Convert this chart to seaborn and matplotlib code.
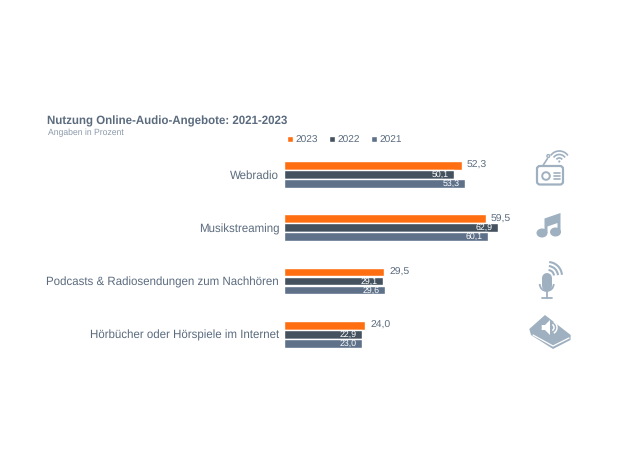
import pandas as pd
import seaborn as sns
import matplotlib.pyplot as plt
from matplotlib.patches import Circle, FancyBboxPatch, Polygon, Arc, Ellipse

categories = ["Webradio", "Musikstreaming", "Podcasts & Radiosendungen zum Nachhören",
              "Hörbücher oder Hörspiele im Internet"]
years = ["2023", "2022", "2021"]
values_2023 = [52.3, 59.5, 29.5, 24.0]
values_2022 = [50.1, 62.9, 29.1, 22.9]
values_2021 = [53.3, 60.1, 29.6, 23.0]
colors = ["#ff6f12", "#44525f", "#5e7189"]

W, H = 630, 468
TEXT = "#5b6b7e"
ICON = "#9fb0c0"

df = pd.DataFrame({"Angebot": categories * 3,
                   "Jahr": sum([[y] * 4 for y in years], []),
                   "Wert": values_2023 + values_2022 + values_2021})

sns.set_theme(style="white")
plt.rcParams["font.family"] = ["Liberation Sans", "DejaVu Sans"]
plt.rcParams["text.hinting"] = "no_hinting"

fig = plt.figure(figsize=(W / 100, H / 100), dpi=100)
# plot area placed by pixels of the reference
left, right, top, bottom = 284.0, 521.7, 147.8, 361.0
ax = fig.add_axes([left / W, 1 - bottom / H, (right - left) / W, (bottom - top) / H])

sns.barplot(data=df, y="Angebot", x="Wert", hue="Jahr", hue_order=years, palette=colors,
            orient="h", width=0.51, gap=0.04, saturation=1, errorbar=None, ax=ax)
ax.set_xlim(0, 70)
ax.set(xlabel="", ylabel="", xticks=[])
ax.tick_params(axis="y", length=0, pad=3.5, labelsize=8.3, labelcolor=TEXT)
sns.despine(ax=ax, left=True, bottom=True)

# first series outside the bar, the others inside
for i, bars in enumerate(ax.containers):
    labels = [f"{v:.1f}".replace(".", ",") for v in bars.datavalues]
    if i == 0:
        ax.bar_label(bars, labels=labels, padding=3.5, fontsize=7.5, color=TEXT)
    else:
        for t in ax.bar_label(bars, labels=labels, padding=-3.6, fontsize=6.3, color="white"):
            t.set_ha("right")

handles, labels = ax.get_legend_handles_labels()
ax.legend(handles, labels, ncol=3, frameon=False, loc="lower left",
          bbox_to_anchor=(2.7 / (right - left), 1.015), fontsize=7.3, labelcolor=TEXT,
          handlelength=0.6, handleheight=0.55, handletextpad=0.3, columnspacing=1.03,
          borderpad=0, borderaxespad=0)

fig.text(47 / W, 1 - 121.5 / H, "Nutzung Online-Audio-Angebote: 2021-2023", fontsize=8.3,
         fontweight="bold", color=TEXT, va="center")
fig.text(47.5 / W, 1 - 133 / H, "Angaben in Prozent", fontsize=6.25, color="#8c9bab", va="center")

# icons on a full-figure overlay in reference pixels
ov = fig.add_axes([0, 0, 1, 1], facecolor="none")
ov.set_xlim(0, W)
ov.set_ylim(H, 0)
ov.axis("off")

# radio
ov.add_patch(FancyBboxPatch((537, 166), 26, 18.5, boxstyle="round,pad=0,rounding_size=3",
                            fc="none", ec=ICON, lw=1.6))
ov.add_patch(Circle((546, 176), 3.8, fc="none", ec=ICON, lw=1.4))
for yy in (172.5, 175.5, 178.5):
    ov.plot([554, 560], [yy, yy], color=ICON, lw=1.2)
ov.plot([543.3, 547.5], [165, 158.5], color=ICON, lw=1.2)
ov.add_patch(Circle((548.3, 156), 1.4, fc="none", ec=ICON, lw=1))
for d in (3.5, 7, 10.5):
    ov.add_patch(Arc((559.3, 161.5), d * 2, d * 2, theta1=215, theta2=325, color=ICON, lw=1.2))
ov.add_patch(Circle((559.3, 161.5), 1.1, fc=ICON, ec="none"))

# note
ov.add_patch(Ellipse((542, 233), 11, 9, fc=ICON, ec="none"))
ov.add_patch(Ellipse((555.5, 232), 11, 9, fc=ICON, ec="none"))
ov.add_patch(Polygon([(544.5, 233), (544.5, 218.5), (560.5, 213), (560.5, 232), (557.5, 232),
                      (557.5, 223), (547.5, 226.5), (547.5, 233)], fc=ICON, ec="none"))

# microphone
ov.plot([546.7, 546.7], [278, 285.5], color=ICON, lw=7.2, solid_capstyle="round")
ov.add_patch(Arc((546.7, 284), 14, 14, theta1=0, theta2=180, color=ICON, lw=1.3))
ov.plot([546.7, 546.7], [291, 297.5], color=ICON, lw=1.3)
ov.plot([542, 552], [297.5, 297.5], color=ICON, lw=1.3)
for d in (6, 10, 14):
    ov.add_patch(Arc((548, 276), d * 2, d * 2, theta1=-85, theta2=-5, color=ICON, lw=1.5))

# book with speaker
ov.add_patch(Polygon([(529.3, 329), (545, 315), (570.7, 335), (570.5, 340), (553, 349), (531, 335)],
                     fc=ICON, ec="none"))
ov.plot([533, 553, 569], [335, 346, 338], color="white", lw=0.9)
ov.add_patch(Polygon([(541.7, 325), (545, 325), (550, 320), (550, 335), (545, 330), (541.7, 330)],
                     fc="white", ec="none"))
for d in (3.5, 6.5):
    ov.add_patch(Arc((550.5, 327.5), d * 2, d * 2, theta1=-60, theta2=60, color="white", lw=1.1))

fig.savefig("out.png", dpi=100)
